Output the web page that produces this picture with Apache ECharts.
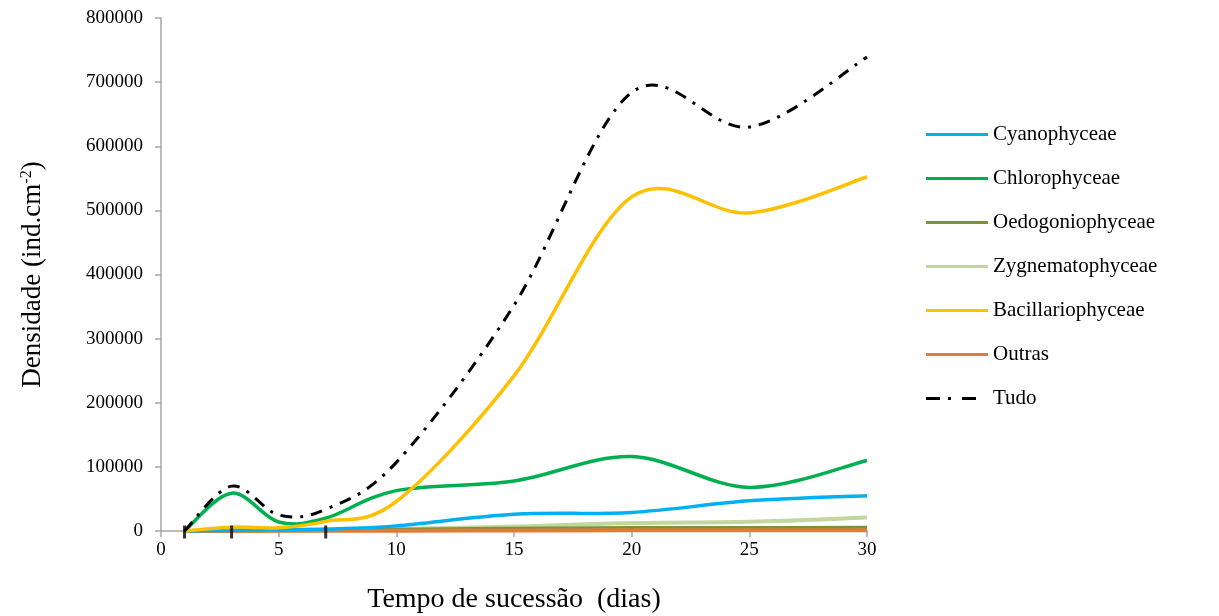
<!DOCTYPE html>
<html>
<head>
<meta charset="utf-8">
<script src="https://cdn.jsdelivr.net/npm/echarts@6/dist/echarts.min.js"></script>
<style>html,body{margin:0;padding:0;background:#fff}#c{width:1219px;height:616px}</style>
</head>
<body>
<div id="c"></div>
<script>
const days = [1, 3, 5, 7, 10, 15, 20, 25, 30];
const cyanophyceae = [0, 1000, 2000, 3000, 8000, 26000, 29000, 47000, 55000];
const chlorophyceae = [0, 59000, 14000, 20000, 63000, 78000, 116000, 68000, 110000];
const oedogoniophyceae = [0, 500, 1000, 1500, 2000, 3500, 4500, 4500, 5000];
const zygnematophyceae = [0, 500, 1000, 1500, 3000, 7000, 12500, 14500, 21000];
const bacillariophyceae = [0, 6000, 5000, 15000, 46000, 242000, 521000, 496000, 552000];
const outras = [0, 200, 300, 500, 500, 800, 1000, 1000, 1000];
const tudo = [0, 70000, 25000, 34000, 107000, 352000, 684000, 630000, 739000];
const markDays = [1, 3, 7];
const xTicks = [0, 5, 10, 15, 20, 25, 30];
const yTicks = [0, 100000, 200000, 300000, 400000, 500000, 600000, 700000, 800000];
const seriesNames = ['Cyanophyceae', 'Chlorophyceae', 'Oedogoniophyceae', 'Zygnematophyceae', 'Bacillariophyceae', 'Outras', 'Tudo'];

const font = 'Liberation Serif';
const pairs = arr => days.map((d, i) => [d, arr[i]]);

// Excel-like smoothed line: cubic Bezier through the points, drawn with the chart's own coordinate mapping
function smoothRender(color, width, dash) {
  return function (params, api) {
    const n = params.dataInsideLength;
    if (params.dataIndexInside !== n - 1) return null;
    const pts = [];
    for (let i = 0; i < n; i++) pts.push(api.coord([api.value(0, i), api.value(1, i)]));
    let d = 'M' + pts[0][0] + ',' + pts[0][1];
    for (let i = 0; i < n - 1; i++) {
      const p0 = pts[Math.max(0, i - 1)], p1 = pts[i], p2 = pts[i + 1], p3 = pts[Math.min(n - 1, i + 2)];
      const c1x = p1[0] + (p2[0] - p0[0]) / 6, c1y = p1[1] + (p2[1] - p0[1]) / 6;
      const c2x = p2[0] - (p3[0] - p1[0]) / 6, c2y = p2[1] - (p3[1] - p1[1]) / 6;
      d += 'C' + c1x + ',' + c1y + ',' + c2x + ',' + c2y + ',' + p2[0] + ',' + p2[1];
    }
    return {
      type: 'path',
      shape: { pathData: d },
      style: { fill: null, stroke: color, lineWidth: width, lineDash: dash || null, lineCap: 'butt', lineJoin: 'round' }
    };
  };
}

const mk = (name, arr, color, width, dash, z) => ({
  name, type: 'custom', data: pairs(arr), renderItem: smoothRender(color, width, dash),
  itemStyle: { color }, encode: { x: 0, y: 1 }, z: z || 3, silent: true, clip: false
});

const lineIcon = 'path://M0,0L62,0L62,3L0,3Z';
const dashDotIcon = 'path://M0,0h14v3h-14z M22,0h3v3h-3z M36,0h14v3h-14z M61.99,0h0.01v3h-0.01z';

const chart = echarts.init(document.getElementById('c'));
chart.setOption({
  animation: false,
  backgroundColor: '#fff',
  grid: { left: 161, right: 352, top: 18, bottom: 85, containLabel: false, outerBoundsMode: 'none' },
  legend: {
    orient: 'vertical', left: 926, top: 124, padding: 0, itemWidth: 62, itemHeight: 3, itemGap: 23,
    textStyle: { fontFamily: font, fontSize: 21, color: '#000' },
    data: seriesNames.map(n => ({ name: n, icon: n === 'Tudo' ? dashDotIcon : lineIcon }))
  },
  xAxis: {
    type: 'value', min: xTicks[0], max: xTicks[xTicks.length - 1], interval: 5,
    name: 'Tempo de sucessão  (dias)', nameLocation: 'middle', nameGap: 55,
    nameTextStyle: { fontFamily: font, fontSize: 28, color: '#000' },
    axisLine: { lineStyle: { color: '#a6a6a6', width: 1.5 } },
    axisTick: { show: true, length: 6, lineStyle: { color: '#a6a6a6', width: 1.5 } },
    axisLabel: { fontFamily: font, fontSize: 19, color: '#000', margin: 10 },
    splitLine: { show: false }
  },
  yAxis: {
    type: 'value', min: yTicks[0], max: yTicks[yTicks.length - 1], interval: 100000,
    name: '{a|Densidade (ind.cm}{s|-2}{a|)}', nameLocation: 'middle', nameGap: 114, nameRotate: 90,
    nameTextStyle: { rich: {
      a: { fontFamily: font, fontSize: 27, color: '#000' },
      s: { fontFamily: font, fontSize: 16, color: '#000', verticalAlign: 'top', padding: [0, 0, 12, 0] }
    } },
    axisLine: { show: true, lineStyle: { color: '#a6a6a6', width: 1.5 } },
    axisTick: { show: true, length: 6, lineStyle: { color: '#a6a6a6', width: 1.5 } },
    axisLabel: { fontFamily: font, fontSize: 19, color: '#000', margin: 18, formatter: v => String(v) },
    splitLine: { show: false }
  },
  series: [
    mk('Zygnematophyceae', zygnematophyceae, '#c3d69b', 4, null, 2),
    mk('Oedogoniophyceae', oedogoniophyceae, '#77933c', 4, null, 3),
    mk('Outras', outras, '#e07b39', 4, null, 3),
    mk('Cyanophyceae', cyanophyceae, '#00b0f0', 3.5, null, 4),
    mk('Bacillariophyceae', bacillariophyceae, '#ffc000', 3.5, null, 5),
    mk('Chlorophyceae', chlorophyceae, '#00b050', 3.5, null, 4),
    mk('Tudo', tudo, '#000', 3, [12, 8, 3, 8], 6),
    {
      name: 'marks', type: 'scatter', data: markDays.map(d => [d, 0]),
      symbol: 'rect', symbolSize: [3, 13], symbolOffset: [0, 1], itemStyle: { color: '#000' }, z: 7, silent: true
    }
  ]
});
</script>
</body>
</html>
